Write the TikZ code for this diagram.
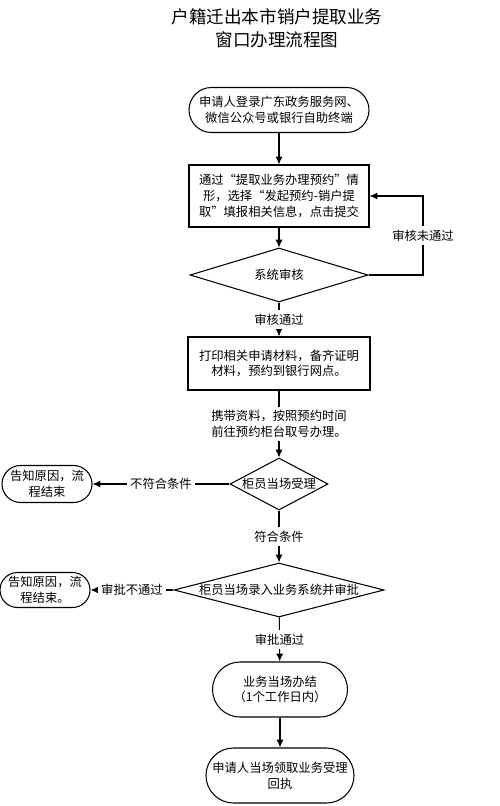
\documentclass[tikz,border=0pt]{standalone}
\usepackage{fontspec}
\setmainfont{Noto Sans CJK SC}
\usetikzlibrary{shapes.geometric}
\usetikzlibrary{arrows.meta}

\begin{document}
\begin{tikzpicture}[
	font=\fontsize{7}{9}\selectfont,
	line width=0.6pt,
	>={Latex[length=4.5pt,width=4pt]},
	term/.style={draw, rectangle, align=center, inner sep=1pt},
	proc/.style={draw, rectangle, align=center, minimum width=3.6cm, inner sep=2pt},
	decide/.style={draw, diamond, inner sep=0pt},
	lbl/.style={fill=white, inner sep=2pt}
	]
	\useasboundingbox (0,0) rectangle (10,-16.12);
	
	%title
	\node[align=center, font=\fontsize{10}{13}\selectfont] (title) at (5.54,-0.57) {户籍迁出本市销户提取业务\\窗口办理流程图};
	
	\node[term, rounded corners=0.45cm, minimum width=3.6cm, minimum height=0.9cm] (start) at (5.58,-2.2) {申请人登录广东政务服务网、\\微信公众号或银行自助终端};
	\node[proc, minimum height=1.24cm] (book) at (5.58,-3.92) {通过“提取业务办理预约”情\\形，选择“发起预约-销户提\\取”填报相关信息，点击提交};
	\node[decide, minimum width=3.56cm, minimum height=1.08cm, label=center:系统审核] (check) at (5.58,-5.5) {};
	\node[proc, minimum width=3.64cm, minimum height=1.06cm] (print) at (5.58,-7.27) {打印相关申请材料，备齐证明\\材料，预约到银行网点。};
	
	\node[decide, minimum width=1.96cm, minimum height=1.04cm, label=center:柜员当场受理] (accept) at (5.58,-9.68) {};
	\node[term, rounded corners=0.37cm, minimum width=1.8cm, minimum height=0.74cm] (endA) at (0.94,-9.68) {告知原因，流\\程结束};
	
	\node[decide, minimum width=4.2cm, minimum height=1.08cm, label=center:柜员当场录入业务系统并审批] (approve) at (5.58,-11.8) {};
	\node[term, rounded corners=0.35cm, minimum width=1.8cm, minimum height=0.7cm] (endB) at (0.9,-11.8) {告知原因，流\\程结束。};
	
	\node[term, rounded corners=0.55cm, minimum width=2.7cm, minimum height=1.1cm] (done) at (5.6,-13.79) {业务当场办结\\（1个工作日内）};
	\node[term, rounded corners=0.55cm, minimum width=2.96cm, minimum height=1.1cm] (receipt) at (5.6,-15.51) {申请人当场领取业务受理\\回执};
	
	%connectors
	\coordinate (loopTop) at (8.46,-3.92);
	\draw[->] (start) -- (book);
	\draw[->] (book) -- (check);
	\draw[->] (check.east) -| (loopTop) node[lbl, pos=0.75] {审核未通过} -- (book.east);
	\draw[->] (check) -- (print) node[lbl, midway] {审核通过};
	\draw[->] (print) -- (accept) node[lbl, midway, align=center] {携带资料，按照预约时间\\前往预约柜台取号办理。};
	\draw[->] (accept) -- (endA) node[lbl, midway] {不符合条件};
	\draw[->] (accept) -- (approve) node[lbl, midway] {符合条件};
	\draw[->] (approve) -- (endB) node[lbl, midway] {审批不通过};
	\draw[->] (approve) -- (done) node[lbl, midway] {审批通过};
	\draw[->] (done) -- (receipt);
	
\end{tikzpicture}
\end{document}
